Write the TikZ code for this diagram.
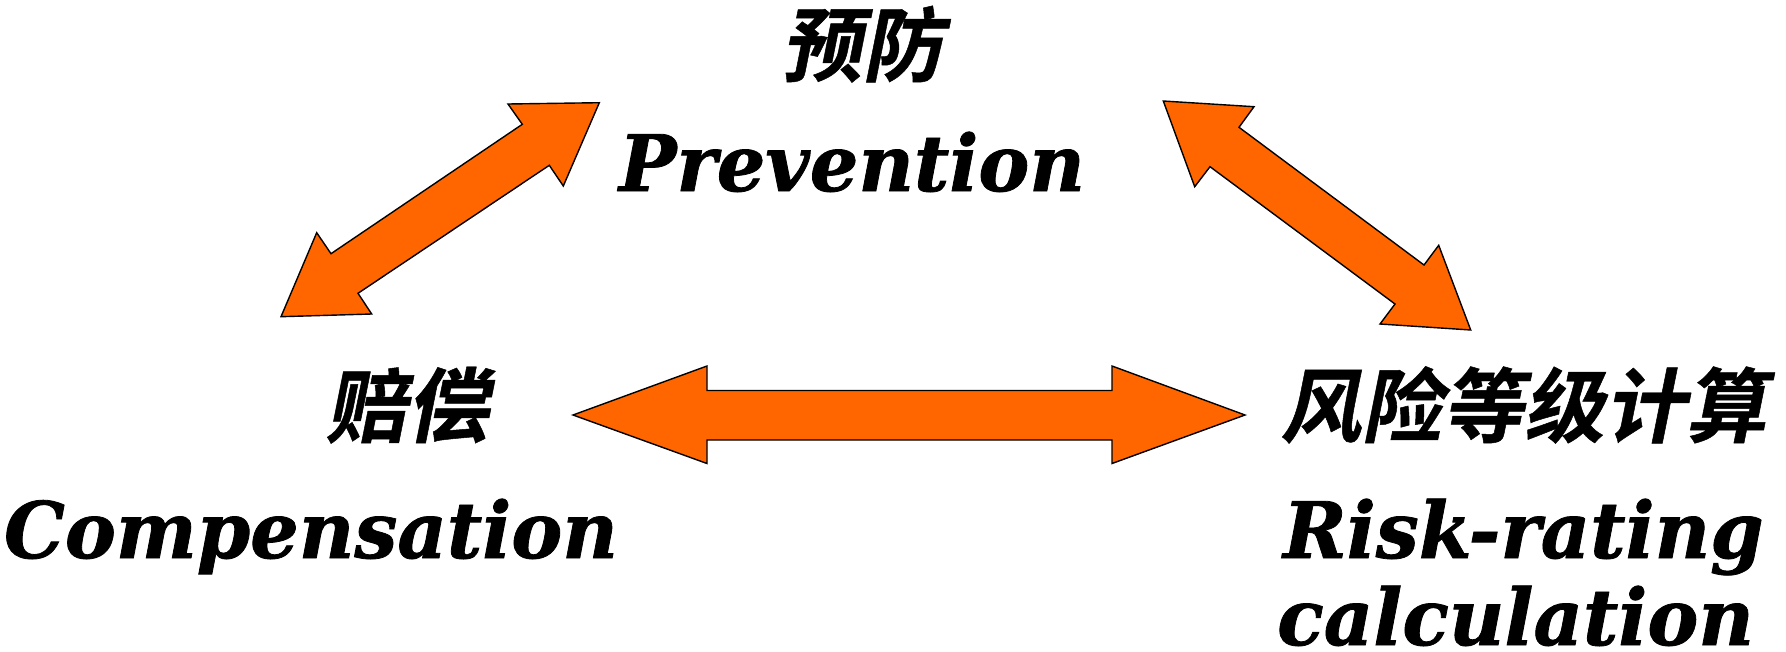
\documentclass[tikz,border=0pt]{standalone}
\usepackage{fontspec}
\setmainfont{DejaVu Serif}
\newfontfamily\latinbi[FakeStretch=0.98,FakeBold=1]{DejaVu Serif Bold Italic}
\newfontfamily\cjkbi[FakeSlant=0.2,FakeBold=0.6]{Noto Sans CJK SC Bold}
\tikzset{
  blockarrow/.style={fill={rgb,255:red,255;green,102;blue,0}, draw=black, line width=1.4pt, line join=miter},
  cjklabel/.style={inner sep=0pt, font=\fontsize{81}{81}\cjkbi},
  latlabel/.style={inner sep=0pt, font=\fontsize{78}{78}\latinbi}
}
\begin{document}
\begin{tikzpicture}[x=1pt,y=-1pt]
\useasboundingbox (0,0) rectangle (1786,651);
% labels
\node[cjklabel, anchor=base] (prevzh) at (862,75) {预防};
\node[latlabel, anchor=base] (preven) at (852,191) {Prevention};
\node[cjklabel, anchor=base] (compzh) at (407,436) {赔偿};
\node[latlabel, anchor=base] (compen) at (311,558) {Compensation};
\node[cjklabel, anchor=base west] (riskzh) at (1280,436) {风险等级计算};
\node[latlabel, anchor=base west] (risken) at (1283,558) {Risk-rating};
\node[latlabel, anchor=base west] (calcen) at (1277,645) {calculation};
% arrows
\draw[blockarrow] (599.3,102.7) -- (508,104) -- (522.3,124.3) -- (331,253.7) -- (316.7,232.7) -- (281,316.7) -- (371.7,314) -- (358,293.3) -- (549.3,165.3) -- (563.3,186) -- cycle;
\draw[blockarrow] (1163.3,101) -- (1254,106.7) -- (1239,127.3) -- (1424,265) -- (1438.7,245.3) -- (1470.7,330) -- (1380,324) -- (1395,304) -- (1210,166.7) -- (1194.7,186.7) -- cycle;
\draw[blockarrow] (573,415) -- (707,366) -- (707,390.5) -- (1112,390.5) -- (1112,366) -- (1245,415) -- (1112,463.5) -- (1112,440) -- (707,440) -- (707,463.5) -- cycle;
\end{tikzpicture}
\end{document}
